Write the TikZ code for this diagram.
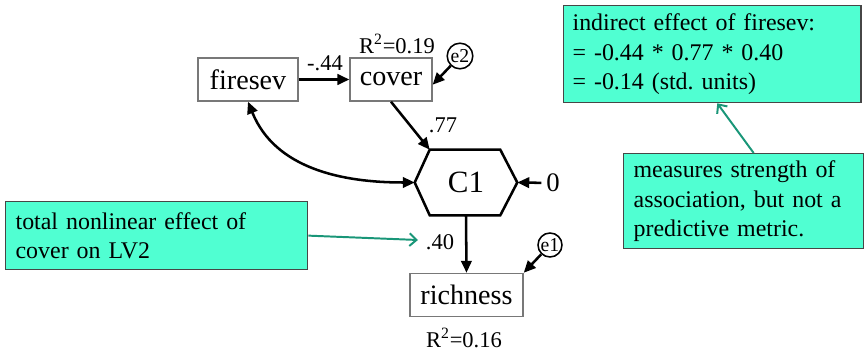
\documentclass[tikz,border=0pt]{standalone}
\usepackage{fontspec}
\setmainfont{Liberation Serif}
\usetikzlibrary{arrows.meta,positioning,calc}
\definecolor{NoteGreen}{RGB}{80,255,210}
\definecolor{NoteLine}{RGB}{25,150,120}
\definecolor{BoxGray}{RGB}{120,120,120}
\definecolor{NoteGray}{RGB}{70,70,70}

\begin{document}
\begin{tikzpicture}[x=0.025cm,y=-0.025cm,
  varbox/.style={rectangle, draw=BoxGray, line width=0.9pt, inner sep=0pt,
    minimum height=1.08cm, font=\fontsize{20}{24}\selectfont},
  errnode/.style={circle, draw, line width=1.1pt, inner sep=0pt,
    minimum size=0.64cm, font=\fontsize{14}{16}\selectfont},
  notebox/.style={rectangle, draw=NoteGray, line width=0.9pt, fill=NoteGreen,
    anchor=north west, align=left, inner xsep=0.25cm, inner ysep=0pt,
    font=\fontsize{17}{21}\selectfont},
  semarrow/.style={line width=1.8pt, -{Triangle[length=8.5pt,width=7.5pt]}},
  notearrow/.style={draw=NoteLine, line width=1.4pt, -{Straight Barb[length=5pt,width=9pt]}},
  coef/.style={font=\fontsize{16}{19}\selectfont}
]
\useasboundingbox (0,0) rectangle (864,353);

% observed variables
\node[varbox, minimum width=2.5cm] (firesev) at (248,79.5) {firesev};
\node[varbox, minimum width=2.05cm] (cover) at (391,79.5) {cover};
\node[varbox, minimum width=2.83cm] (richness) at (466.5,295) {richness};

% composite
\node[minimum width=2.55cm, minimum height=1.625cm, inner sep=0pt,
  font=\fontsize{22}{26}\selectfont] (c1) at (466,182.5) {C1};
\coordinate (c1tl) at ($(c1.north west)+(15,0)$);
\draw[line width=1.8pt, line join=miter] (c1tl) -- ($(c1.north east)+(-17,0)$) -- (c1.east)
  -- ($(c1.south east)+(-17,0)$) -- ($(c1.south west)+(15,0)$) -- (c1.west) -- cycle;

% errors
\node[errnode] (e2) at (460,56) {e2};
\node[errnode, minimum size=0.6cm] (e1) at (550,245) {e1};
\node[font=\fontsize{19}{22}\selectfont] (zero) at (553,183) {0};

% paths
\draw[semarrow] (firesev) -- (cover);
\draw[semarrow] (cover.south) -- (c1tl);
\draw[semarrow] (e2) -- ($(cover.south east)+(0,-17)$);
\draw[semarrow, {Triangle[length=8.5pt,width=7.5pt]}-{Triangle[length=8.5pt,width=7.5pt]}]
  (firesev.south) to[out=-68,in=180] (c1.west);
\draw[semarrow] (zero) -- (c1.east);
\draw[semarrow] (c1.south) -- (richness.north);
\draw[semarrow] (e1) -- (richness.north east);

% labels
\node[coef] (l44) at (325,63) {-.44};
\node[coef] (l77) at (443,125) {.77};
\node[coef] (l40) at (440,242) {.40};
\node[coef] (r2cover) at (397,44) {R\textsuperscript{2}=0.19};
\node[coef] (r2rich) at (464,338) {R\textsuperscript{2}=0.16};

% notes
\node[notebox, text width=7.05cm, minimum height=1.7cm] (nlnote) at (5,201)
  {total nonlinear effect of\\cover on LV2};
\node[notebox, text width=6.98cm, minimum height=2.425cm, inner xsep=0.225cm] (indnote) at (563,5)
  {indirect effect of firesev:\\= -0.44 * 0.77 * 0.40\\= -0.14 (std.\ units)};
\node[notebox, text width=5.5cm, minimum height=2.375cm] (assocnote) at (623,153)
  {measures strength of\\association, but not a\\predictive metric.};

\coordinate (fortytip) at (418,240);
\draw[notearrow] (nlnote.east) -- (fortytip);
\draw[notearrow] ($(assocnote.north)+(10,0)$) -- ($(indnote.south)+(5,0)$);
\end{tikzpicture}
\end{document}
